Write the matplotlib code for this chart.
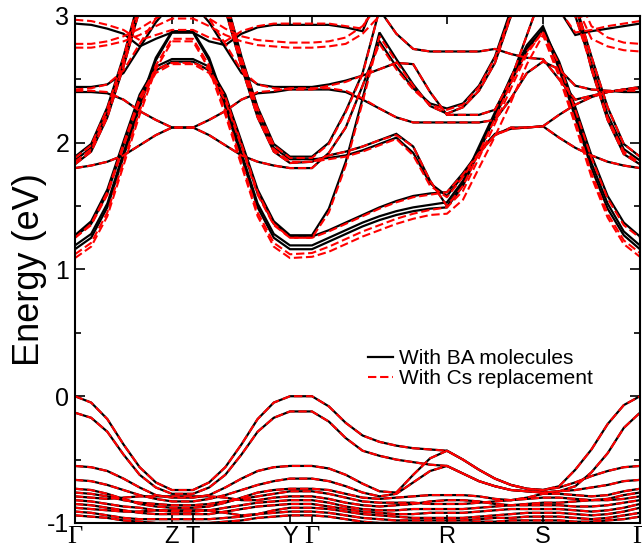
## band structure: BA molecules vs Cs replacement

import numpy as np
import matplotlib
matplotlib.use('agg')
from matplotlib import pyplot as plt
from matplotlib.lines import Line2D

plt.rcParams['font.family'] = ['Liberation Sans', 'DejaVu Sans']
plt.rcParams['axes.unicode_minus'] = False

# high symmetry points along the k-path (path length, arbitrary units)
kpoint_labels = ['Γ', 'Z', 'T', 'Y', 'Γ', 'R', 'S', 'Γ']
kpoint_pos = [0.0, 0.97, 1.18, 2.15, 2.37, 3.72, 4.68, 5.65]
# number of sampled intervals in each segment
seg_steps = [6, 1, 6, 1, 8, 6, 6]

# ---- conduction bands, with BA molecules (eV) ----
ba_c1 = [1.16, 1.25, 1.49, 1.89, 2.28, 2.65, 2.87, 2.87,
         2.65, 2.28, 1.89, 1.49, 1.25, 1.16, 1.16,
         1.22, 1.28, 1.34, 1.39, 1.43, 1.46, 1.48, 1.49,
         1.66, 1.93, 2.20, 2.48, 2.73, 2.90,
         2.58, 2.20, 1.80, 1.48, 1.27, 1.16]
ba_c2 = [1.19, 1.28, 1.52, 1.92, 2.31, 2.67, 2.88, 2.88,
         2.67, 2.31, 1.92, 1.52, 1.28, 1.19, 1.19,
         1.25, 1.31, 1.37, 1.42, 1.46, 1.49, 1.51, 1.53,
         1.70, 1.97, 2.24, 2.52, 2.77, 2.92,
         2.61, 2.24, 1.84, 1.52, 1.30, 1.19]
ba_c3 = [1.26, 1.36, 1.60, 1.98, 2.35, 2.57, 2.64, 2.64,
         2.57, 2.35, 1.98, 1.60, 1.36, 1.26, 1.26,
         1.31, 1.37, 1.43, 1.49, 1.54, 1.58, 1.60, 1.61,
         1.76, 1.93, 2.07, 2.11, 2.12, 2.13,
         2.04, 1.96, 1.90, 1.85, 1.82, 1.80]
ba_c4 = [1.27, 1.38, 1.63, 2.01, 2.38, 2.60, 2.66, 2.66,
         2.60, 2.38, 2.01, 1.63, 1.38, 1.27, 1.27,
         1.48, 1.85, 2.35, 2.87, 2.66, 2.46, 2.29, 2.23,
         2.28, 2.41, 2.63, 3.00, 3.30, 3.40,
         3.40, 3.00, 2.62, 2.22, 1.95, 1.86]
ba_c5 = [1.83, 1.93, 2.20, 2.60, 3.05, 3.40, 3.50, 3.50,
         3.40, 3.05, 2.60, 2.20, 1.93, 1.84, 1.85,
         1.90, 1.93, 1.97, 2.02, 2.07, 1.97, 1.70, 1.50,
         1.68, 1.95, 2.22, 2.50, 2.75, 2.89,
         2.64, 2.28, 1.90, 1.58, 1.37, 1.26]
ba_c6 = [1.86, 1.96, 2.24, 2.64, 3.10, 3.45, 3.55, 3.55,
         3.45, 3.10, 2.64, 2.24, 1.96, 1.87, 1.87,
         1.88, 1.90, 1.94, 1.99, 2.04, 1.92, 1.68, 1.58,
         1.74, 1.92, 2.06, 2.12, 2.12, 2.13,
         2.22, 2.30, 2.36, 2.40, 2.42, 2.43]
ba_c7 = [1.89, 1.99, 2.28, 2.68, 3.15, 3.50, 3.60, 3.60,
         3.50, 3.15, 2.68, 2.28, 1.99, 1.89, 1.89,
         2.00, 2.25, 2.55, 3.05, 2.86, 2.74, 2.72, 2.72,
         2.72, 2.72, 2.74, 2.70, 2.67, 2.66,
         2.50, 2.34, 2.37, 2.40, 2.42, 2.44]
ba_c8 = [1.80, 1.82, 1.85, 1.90, 1.98, 2.06, 2.12, 2.12,
         2.06, 1.98, 1.90, 1.85, 1.82, 1.80, 1.80,
         1.92, 2.12, 2.45, 2.80, 2.60, 2.43, 2.31, 2.27,
         2.31, 2.45, 2.68, 3.05, 3.30, 3.40,
         3.40, 3.10, 2.58, 2.18, 1.91, 1.83]
ba_c9 = [2.40, 2.40, 2.39, 2.34, 2.25, 2.18, 2.12, 2.12,
         2.18, 2.25, 2.34, 2.39, 2.40, 2.42, 2.42,
         2.42, 2.40, 2.34, 2.27, 2.20, 2.16, 2.16, 2.16,
         2.16, 2.16, 2.18, 2.35, 2.55, 2.64,
         2.58, 2.45, 2.42, 2.41, 2.40, 2.40]
ba_c10 = [2.44, 2.44, 2.46, 2.55, 2.75, 2.95, 3.10, 3.10,
          2.95, 2.75, 2.55, 2.46, 2.44, 2.44, 2.44,
          2.46, 2.49, 2.53, 2.58, 2.63, 2.62, 2.40, 2.22,
          2.22, 2.22, 2.26, 2.50, 2.85, 3.20,
          3.40, 3.10, 2.68, 2.28, 1.99, 1.89]
ba_c11 = [2.94, 2.93, 2.90, 2.86, 2.76, 2.82, 2.87, 2.87,
          2.80, 2.77, 2.86, 2.91, 2.93, 2.93, 2.93,
          2.93, 2.91, 2.88, 3.20, 3.40, 3.40, 3.40, 3.40,
          3.40, 3.40, 3.40, 3.40, 3.40, 3.40,
          3.05, 2.85, 2.88, 2.90, 2.92, 2.94]

# ---- conduction bands, with Cs replacement (eV) ----
cs_c1 = [1.09, 1.18, 1.42, 1.82, 2.22, 2.58, 2.80, 2.80,
         2.58, 2.22, 1.82, 1.42, 1.18, 1.09, 1.10,
         1.14, 1.20, 1.26, 1.31, 1.36, 1.40, 1.43, 1.44,
         1.55, 1.80, 2.05, 2.32, 2.62, 2.85,
         2.52, 2.14, 1.73, 1.41, 1.20, 1.10]
cs_c2 = [1.12, 1.21, 1.45, 1.85, 2.25, 2.61, 2.82, 2.82,
         2.61, 2.25, 1.85, 1.45, 1.21, 1.12, 1.13,
         1.18, 1.24, 1.30, 1.35, 1.40, 1.44, 1.47, 1.49,
         1.62, 1.88, 2.15, 2.43, 2.70, 2.88,
         2.55, 2.17, 1.76, 1.44, 1.23, 1.13]
cs_c3 = [1.25, 1.35, 1.59, 1.97, 2.33, 2.55, 2.62, 2.62,
         2.55, 2.33, 1.97, 1.59, 1.35, 1.25, 1.25,
         1.30, 1.36, 1.42, 1.48, 1.53, 1.57, 1.59, 1.61,
         1.75, 1.92, 2.06, 2.11, 2.12, 2.13,
         2.04, 1.96, 1.90, 1.85, 1.82, 1.80]
cs_c4 = [1.25, 1.36, 1.61, 1.99, 2.36, 2.58, 2.63, 2.63,
         2.58, 2.36, 1.99, 1.61, 1.36, 1.25, 1.25,
         1.45, 1.82, 2.32, 2.84, 2.64, 2.45, 2.29, 2.23,
         2.28, 2.41, 2.63, 3.00, 3.30, 3.40,
         3.40, 3.00, 2.60, 2.20, 1.93, 1.84]
cs_c5 = [1.83, 1.93, 2.20, 2.60, 3.05, 3.40, 3.50, 3.50,
         3.40, 3.05, 2.60, 2.20, 1.93, 1.84, 1.85,
         1.90, 1.93, 1.97, 2.02, 2.06, 1.97, 1.70, 1.50,
         1.66, 1.92, 2.19, 2.47, 2.72, 2.87,
         2.62, 2.26, 1.88, 1.56, 1.35, 1.25]
cs_c6 = [1.85, 1.95, 2.23, 2.63, 3.10, 3.45, 3.55, 3.55,
         3.45, 3.10, 2.63, 2.23, 1.95, 1.85, 1.85,
         1.87, 1.89, 1.93, 1.98, 2.03, 1.90, 1.66, 1.57,
         1.73, 1.91, 2.06, 2.12, 2.12, 2.13,
         2.22, 2.30, 2.36, 2.40, 2.42, 2.43]
cs_c7 = [1.88, 1.98, 2.27, 2.67, 3.15, 3.50, 3.60, 3.60,
         3.50, 3.15, 2.67, 2.27, 1.98, 1.88, 1.88,
         1.99, 2.24, 2.54, 3.05, 2.86, 2.74, 2.72, 2.72,
         2.72, 2.72, 2.74, 2.70, 2.67, 2.66,
         2.50, 2.34, 2.37, 2.40, 2.42, 2.44]
cs_c8 = [1.80, 1.82, 1.85, 1.90, 1.98, 2.06, 2.12, 2.12,
         2.06, 1.98, 1.90, 1.85, 1.82, 1.80, 1.80,
         1.92, 2.12, 2.45, 2.78, 2.58, 2.42, 2.30, 2.26,
         2.30, 2.44, 2.67, 3.02, 3.30, 3.40,
         3.40, 3.10, 2.58, 2.18, 1.91, 1.83]
cs_c9 = [2.41, 2.41, 2.40, 2.34, 2.25, 2.18, 2.12, 2.12,
         2.18, 2.25, 2.34, 2.40, 2.41, 2.43, 2.43,
         2.43, 2.41, 2.35, 2.27, 2.20, 2.16, 2.16, 2.16,
         2.16, 2.16, 2.18, 2.35, 2.55, 2.64,
         2.58, 2.45, 2.42, 2.41, 2.41, 2.41]
cs_c10 = [2.42, 2.43, 2.46, 2.57, 2.78, 2.98, 3.10, 3.10,
          2.98, 2.78, 2.57, 2.46, 2.43, 2.42, 2.42,
          2.45, 2.48, 2.53, 2.58, 2.63, 2.62, 2.40, 2.22,
          2.22, 2.22, 2.26, 2.50, 2.85, 3.20,
          3.40, 3.10, 2.68, 2.28, 1.99, 1.89]
cs_c11 = [2.97, 2.96, 2.93, 2.89, 2.81, 2.85, 2.89, 2.89,
          2.83, 2.80, 2.88, 2.92, 2.94, 2.94, 2.94,
          2.94, 2.92, 2.90, 3.20, 3.40, 3.40, 3.40, 3.40,
          3.40, 3.40, 3.40, 3.40, 3.40, 3.40,
          3.05, 2.87, 2.89, 2.92, 2.94, 2.96]
cs_c12 = [2.78, 2.78, 2.80, 2.84, 2.90, 2.98, 3.05, 3.05,
          2.98, 2.90, 2.84, 2.81, 2.80, 2.79, 2.79,
          2.80, 2.83, 2.92, 3.10, 3.30, 3.40, 3.40, 3.40,
          3.40, 3.40, 3.40, 3.40, 3.40, 3.40,
          3.40, 3.20, 2.92, 2.83, 2.79, 2.78]
cs_c13 = [2.75, 2.75, 2.77, 2.80, 2.85, 2.92, 2.98, 2.98,
          2.92, 2.85, 2.80, 2.77, 2.76, 2.75, 2.75,
          2.76, 2.78, 2.86, 3.00, 3.25, 3.40, 3.40, 3.40,
          3.40, 3.40, 3.40, 3.40, 3.40, 3.40,
          3.40, 3.10, 2.82, 2.76, 2.73, 2.72]

# ---- valence bands (eV); both structures give the same values here ----
vb1 = [0.00, -0.05, -0.18, -0.38, -0.56, -0.68, -0.74, -0.74,
       -0.68, -0.56, -0.38, -0.18, -0.05, 0.00, 0.00,
       -0.08, -0.21, -0.31, -0.36, -0.39, -0.41, -0.42, -0.43,
       -0.50, -0.58, -0.65, -0.70, -0.73, -0.74,
       -0.71, -0.58, -0.42, -0.22, -0.07, 0.00]
vb2 = [-0.13, -0.17, -0.28, -0.46, -0.62, -0.72, -0.77, -0.77,
       -0.72, -0.62, -0.46, -0.28, -0.17, -0.12, -0.12,
       -0.20, -0.33, -0.43, -0.47, -0.50, -0.52, -0.54, -0.55,
       -0.61, -0.67, -0.71, -0.74, -0.75, -0.76,
       -0.75, -0.71, -0.60, -0.45, -0.25, -0.13]
vb3 = [-0.55, -0.56, -0.59, -0.65, -0.72, -0.78, -0.80, -0.80,
       -0.78, -0.72, -0.65, -0.59, -0.56, -0.55, -0.55,
       -0.57, -0.62, -0.69, -0.75, -0.76, -0.62, -0.49, -0.43,
       -0.50, -0.58, -0.65, -0.70, -0.73, -0.74,
       -0.72, -0.68, -0.63, -0.59, -0.56, -0.55]
vb4 = [-0.66, -0.67, -0.70, -0.74, -0.78, -0.81, -0.83, -0.83,
       -0.81, -0.78, -0.74, -0.70, -0.67, -0.65, -0.65,
       -0.67, -0.71, -0.76, -0.79, -0.77, -0.68, -0.59, -0.55,
       -0.61, -0.67, -0.71, -0.74, -0.75, -0.76,
       -0.75, -0.74, -0.72, -0.70, -0.67, -0.66]
vb5 = [-0.73, -0.74, -0.77, -0.81, -0.85, -0.87, -0.88, -0.88,
       -0.87, -0.84, -0.80, -0.76, -0.74, -0.73, -0.73,
       -0.74, -0.77, -0.80, -0.81, -0.80, -0.79, -0.78, -0.78,
       -0.78, -0.79, -0.81, -0.82, -0.80, -0.77,
       -0.77, -0.78, -0.79, -0.78, -0.75, -0.73]
vb6 = [-0.76, -0.77, -0.79, -0.82, -0.84, -0.85, -0.86, -0.86,
       -0.85, -0.83, -0.81, -0.79, -0.77, -0.75, -0.75,
       -0.77, -0.80, -0.83, -0.84, -0.84, -0.84, -0.85, -0.85,
       -0.85, -0.84, -0.83, -0.82, -0.81, -0.80,
       -0.80, -0.81, -0.82, -0.81, -0.78, -0.76]
vb7 = [-0.79, -0.80, -0.81, -0.80, -0.79, -0.79, -0.79, -0.79,
       -0.79, -0.80, -0.82, -0.82, -0.80, -0.79, -0.79,
       -0.81, -0.84, -0.86, -0.87, -0.86, -0.85, -0.83, -0.82,
       -0.82, -0.83, -0.85, -0.86, -0.85, -0.84,
       -0.84, -0.83, -0.82, -0.82, -0.81, -0.79]
vb8 = [-0.82, -0.83, -0.85, -0.87, -0.88, -0.90, -0.91, -0.91,
       -0.90, -0.88, -0.86, -0.84, -0.83, -0.82, -0.82,
       -0.84, -0.87, -0.89, -0.90, -0.90, -0.89, -0.89, -0.89,
       -0.89, -0.88, -0.87, -0.86, -0.86, -0.86,
       -0.86, -0.87, -0.87, -0.86, -0.84, -0.82]
vb9 = [-0.85, -0.86, -0.88, -0.90, -0.92, -0.93, -0.93, -0.93,
       -0.93, -0.91, -0.89, -0.87, -0.86, -0.85, -0.85,
       -0.87, -0.89, -0.91, -0.92, -0.93, -0.93, -0.92, -0.92,
       -0.92, -0.91, -0.90, -0.89, -0.89, -0.89,
       -0.89, -0.90, -0.91, -0.90, -0.88, -0.85]
vb10 = [-0.88, -0.89, -0.90, -0.91, -0.91, -0.90, -0.90, -0.90,
        -0.90, -0.92, -0.94, -0.93, -0.90, -0.88, -0.88,
        -0.89, -0.91, -0.93, -0.94, -0.95, -0.96, -0.96, -0.96,
        -0.96, -0.95, -0.94, -0.93, -0.92, -0.92,
        -0.92, -0.93, -0.94, -0.93, -0.91, -0.88]
vb11 = [-0.91, -0.92, -0.94, -0.96, -0.97, -0.97, -0.97, -0.97,
        -0.97, -0.96, -0.95, -0.93, -0.92, -0.91, -0.91,
        -0.92, -0.94, -0.96, -0.97, -0.98, -0.98, -0.98, -0.98,
        -0.98, -0.97, -0.96, -0.96, -0.95, -0.95,
        -0.95, -0.96, -0.97, -0.96, -0.94, -0.92]
vb12 = [-0.94, -0.95, -0.96, -0.98, -0.99, -1.00, -1.00, -1.00,
        -1.00, -0.99, -0.98, -0.96, -0.95, -0.94, -0.94,
        -0.95, -0.97, -0.99, -1.00, -1.00, -1.00, -1.00, -1.00,
        -1.00, -0.99, -0.99, -0.98, -0.98, -0.98,
        -0.98, -0.99, -0.99, -0.98, -0.97, -0.95]

ba_bands = [ba_c1, ba_c2, ba_c3, ba_c4, ba_c5, ba_c6, ba_c7, ba_c8, ba_c9,
            ba_c10, ba_c11]
cs_bands = [cs_c1, cs_c2, cs_c3, cs_c4, cs_c5, cs_c6, cs_c7, cs_c8, cs_c9,
            cs_c10, cs_c11, cs_c12, cs_c13]
valence = [vb1, vb2, vb3, vb4, vb5, vb6, vb7, vb8, vb9, vb10, vb11, vb12]

# k grid: sampled points between consecutive high symmetry points
k = [kpoint_pos[0]]
for i, n in enumerate(seg_steps):
    k.extend(np.linspace(kpoint_pos[i], kpoint_pos[i + 1], n + 1)[1:])
k = np.array(k)

fig = plt.figure(figsize=(6.42, 5.55), dpi=100)
ax = fig.add_axes([0.1168, 0.0577, 0.880, 0.9135])

for band in ba_bands + valence:
    ax.plot(k, band, color='black', lw=1.6, solid_joinstyle='miter')
for band in cs_bands + valence:
    ax.plot(k, band, color='red', lw=1.5, dashes=(4, 1.8))

ax.set_xlim(kpoint_pos[0], kpoint_pos[-1])
ax.set_ylim(-1, 3)

# axes styling
for side in ax.spines.values():
    side.set_linewidth(1.5)
ax.set_yticks([-1, 0, 1, 2, 3])
ax.set_yticklabels(['-1', '0', '1', '2', '3'])
ax.set_yticks(np.arange(-1, 3.01, 0.5), minor=True)
ax.tick_params(axis='y', which='both', direction='in', right=True,
               labelsize=18, pad=4, width=1.2)
ax.tick_params(axis='y', which='major', length=7)
ax.tick_params(axis='y', which='minor', length=4)
ax.set_xticks(kpoint_pos)
ax.set_xticklabels(kpoint_labels)
ax.tick_params(axis='x', direction='in', top=True, length=6, width=1.2,
               labelsize=17, pad=2)
for lab in ax.get_xticklabels():
    if lab.get_text() == 'Γ':
        lab.set_fontfamily('Liberation Serif')
        lab.set_fontsize(19)

ax.set_ylabel('Energy (eV)', fontsize=26, labelpad=0)

handles = [Line2D([], [], color='black', lw=1.6),
           Line2D([], [], color='red', lw=1.5, dashes=(4, 1.8))]
ax.legend(handles, ['With BA molecules', 'With Cs replacement'],
          loc='center left', bbox_to_anchor=(0.519, 0.305), frameon=False,
          fontsize=15, handlelength=1.2, handletextpad=0.3,
          labelspacing=0.05, borderpad=0, borderaxespad=0)

fig.savefig('out.png', dpi=100)
